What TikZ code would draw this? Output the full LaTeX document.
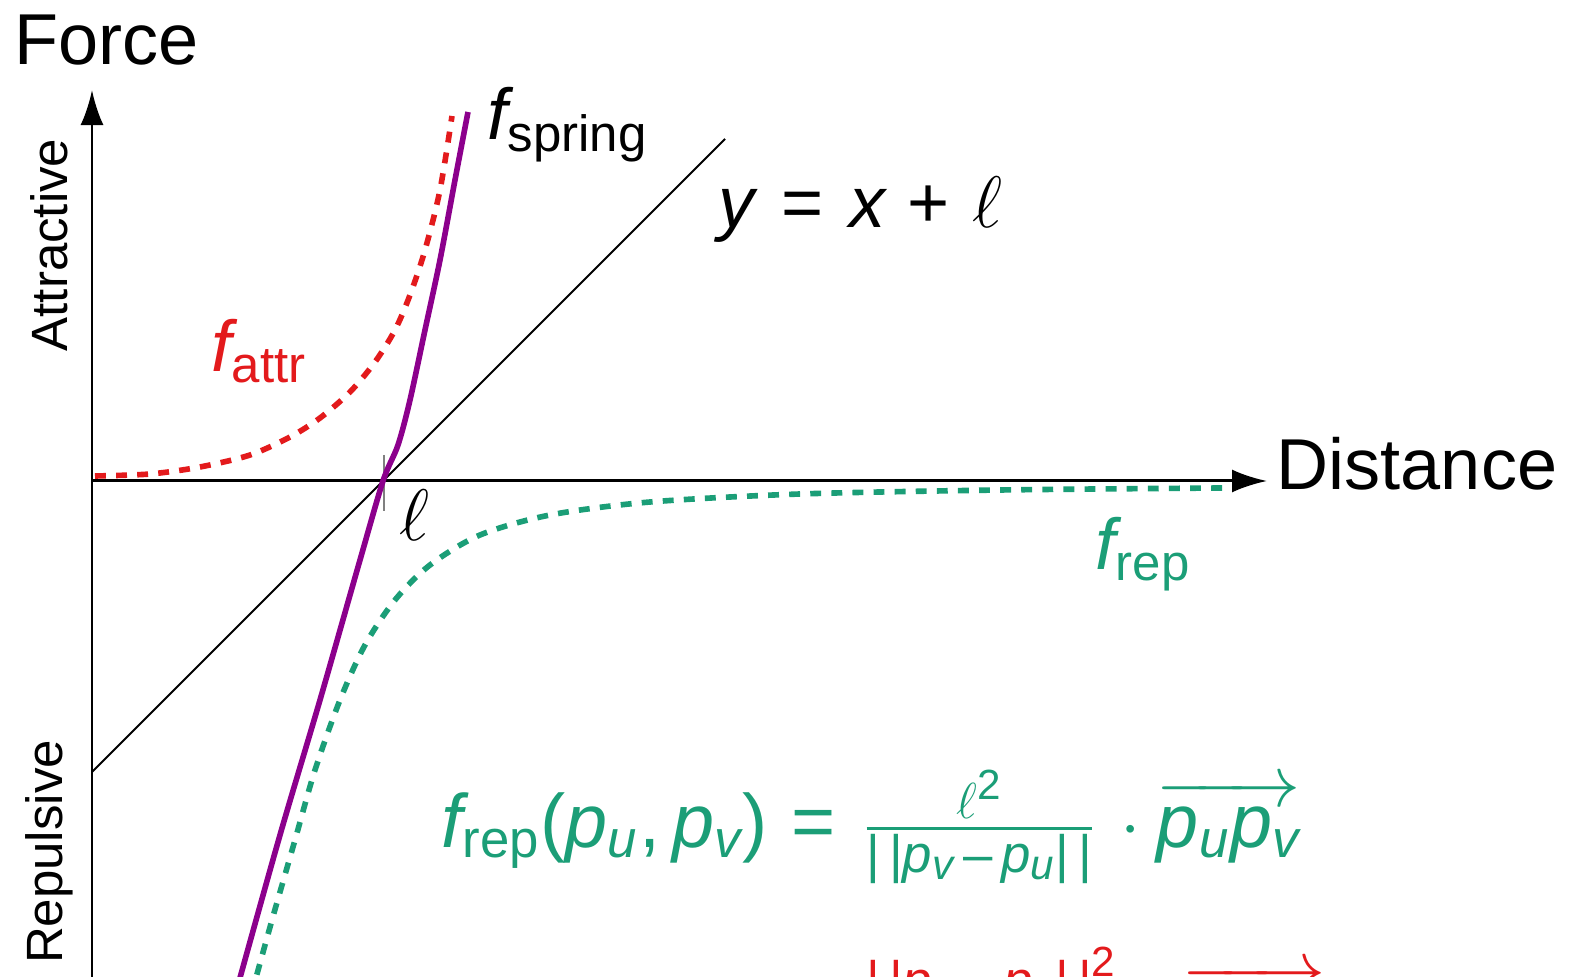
\documentclass[tikz,border=0pt]{standalone}
\usepackage{amsmath}
\usepackage{fontspec}
\setmainfont{Liberation Sans}
\usepackage[italic]{mathastext}
\usepackage{tikz}
\usetikzlibrary{arrows.meta}
\DeclareMathSizes{20.5}{20.5}{14.5}{11}
\DeclareMathSizes{21.5}{21.5}{15}{12}
\definecolor{attrred}{RGB}{227,26,28}
\definecolor{repgreen}{RGB}{27,158,119}
\definecolor{springpurple}{RGB}{140,0,140}
\newcommand{\teq}{\mathrel{\text{=}}}
\newcommand{\tplus}{\mathbin{\text{+}}}
\newcommand{\tminus}{\mathbin{\text{–}}}
\newcommand{\tnorm}{\text{|\,|}}

\begin{document}
\begin{tikzpicture}[x=0.01cm,y=-0.01cm,
  every node/.style={font=\fontsize{20.5}{24}\selectfont,inner sep=0pt},
  axislabel/.style={font=\fontsize{14.5}{17}\selectfont,rotate=90,anchor=base},
  formula/.style={font=\fontsize{21.5}{26}\selectfont,anchor=base west},
  axis/.style={line width=0.85pt,-{Latex[length=0.35cm,width=0.23cm]}},
  curve/.style={line width=1.6pt},
  dots/.style={curve,dash pattern=on 3.1pt off 2.9pt}]

\useasboundingbox (0,0) rectangle (1574,977);

%Axes

\coordinate (origin) at (92,481);
\coordinate (ybottom) at (92,985);
\coordinate (ytop) at (92,90);
\coordinate (xend) at (1267,481);
\draw[axis] (ybottom)--(ytop);
\draw[axis] (origin)--(xend);

\node (force) [anchor=base west] at (14,65) {Force};
\node (distance) [anchor=base west] at (1276,490) {Distance};
\node (attractive) [axislabel] at (67,245) {Attractive};
\node (repulsive) [axislabel] at (62,852) {Repulsive};

%Line y = x + l and the tick at l

\coordinate (lineA) at (92,772);
\coordinate (lineB) at (725,139);
\draw[line width=0.6pt] (lineA)--(lineB);
\coordinate (tickA) at (384,455);
\coordinate (tickB) at (384,511);
\draw[gray,line width=0.3pt] (tickA)--(tickB);
\node (ell) at (414,515) {$\ell$};
\node (line) [anchor=base west] at (718,228) {$y \mskip1.5mu\teq\mskip1.5mu x \mskip1.5mu\tplus\mskip1.5mu \ell$};

%Curves

\draw[dots,attrred] plot[smooth] coordinates {(95,476) (150,474) (200,467) (250,455) (290,437) (320,418) (350,392) (375,362) (395,330) (410,295) (425,250) (440,190) (452,116)};

\draw[dots,repgreen] plot[smooth] coordinates {(1222,488) (1000,490) (800,494) (650,502) (550,515) (480,535) (430,565) (395,600) (365,645) (340,700) (315,770) (295,840) (272,920) (254,985)};

\draw[curve,springpurple] plot[smooth] coordinates {(468,112) (455,180) (440,260) (425,330) (410,400) (398,445) (383,481) (360,560) (320,700) (280,835) (238,985)};

\node (fspring) [anchor=base west] at (487,140) {$f_{\mathrm{spring}}$};
\node (fattr) [anchor=base west,attrred] at (211,372) {$f_{\mathrm{attr}}$};
\node (frep) [anchor=base west,repgreen] at (1095,570) {$f_{\mathrm{rep}}$};

%Formulas

\node (repform) [formula,repgreen] at (441,847) {$f_{\mathrm{rep}}\text{(}p_u, p_v\text{)} \mskip1mu\teq\mskip1.5mu \frac{\ell^{\text{2}}}{\tnorm p_v \,\tminus\, p_u \tnorm} \mskip2mu\cdot \overrightarrow{p_u p_v}$};
\node (attrform) [formula,attrred] at (441,1032) {$f_{\mathrm{attr}}\text{(}p_u, p_v\text{)} \mskip1mu\teq\mskip1.5mu \frac{\tnorm p_u \,\tminus\, p_v \tnorm^{\text{2}}}{\ell} \mskip2mu\cdot \overrightarrow{p_v p_u}$};

\end{tikzpicture}
\end{document}
